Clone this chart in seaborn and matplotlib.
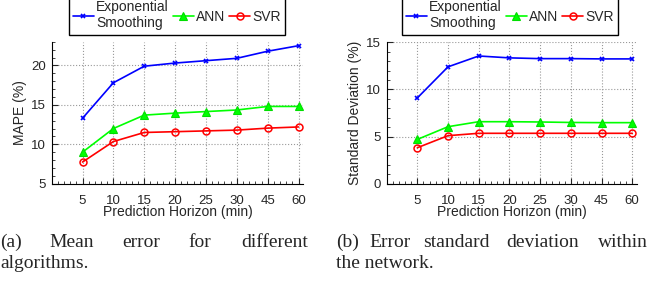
import numpy as np
import pandas as pd
import matplotlib
matplotlib.use('Agg')
import matplotlib.pyplot as plt
from matplotlib.ticker import MultipleLocator
import seaborn as sns

# data
horizons = ['5', '10', '15', '20', '25', '30', '45', '60']
mape_es = [13.3, 17.8, 19.9, 20.3, 20.6, 20.9, 21.8, 22.5]
mape_ann = [9.0, 12.0, 13.7, 13.95, 14.15, 14.35, 14.8, 14.8]
mape_svr = [7.75, 10.35, 11.5, 11.6, 11.7, 11.8, 12.05, 12.2]
std_es = [9.1, 12.4, 13.55, 13.35, 13.27, 13.27, 13.24, 13.24]
std_ann = [4.7, 6.05, 6.58, 6.58, 6.55, 6.5, 6.48, 6.48]
std_svr = [3.82, 5.1, 5.35, 5.35, 5.35, 5.35, 5.35, 5.35]
series_names = ['Exponential\nSmoothing', 'ANN', 'SVR']

sns.set_style('ticks')
plt.rcParams['font.family'] = ['Liberation Sans', 'DejaVu Sans']

styles = {
    'Exponential\nSmoothing': dict(color='#0000ff', marker='x', markersize=3.5,
                                   markeredgecolor='#0000ff', markeredgewidth=1.2),
    'ANN': dict(color='#00ff00', marker='^', markersize=5.5, markerfacecolor='#00ff00',
                markeredgecolor='#00dd00', markeredgewidth=0.8),
    'SVR': dict(color='#ff0000', marker='o', markersize=5, markerfacecolor='none',
                markeredgecolor='#ff0000', markeredgewidth=1.1),
}


def make_df(es, ann, svr):
    rows = []
    for name, vals in zip(series_names, [es, ann, svr]):
        for i, v in enumerate(vals):
            rows.append({'pos': i, 'value': v, 'series': name})
    return pd.DataFrame(rows)


fig = plt.figure(figsize=(6.62, 2.84), dpi=100)
ax1 = fig.add_axes([0.078, 0.353, 0.38, 0.500])
ax2 = fig.add_axes([0.584, 0.353, 0.378, 0.498])


def draw(ax, df, ylim, ylabel, legend_x):
    for name in series_names:
        sub = df[df['series'] == name]
        sns.lineplot(data=sub, x='pos', y='value', ax=ax, label=name,
                     linewidth=1.2, **styles[name])
    ax.set_xlim(-1, 7.15)
    ax.set_ylim(*ylim)
    ax.set_xticks(range(len(horizons)))
    ax.set_xticklabels(horizons)
    ax.xaxis.set_minor_locator(MultipleLocator(0.2))
    ax.yaxis.set_major_locator(MultipleLocator(5))
    ax.yaxis.set_minor_locator(MultipleLocator(1))
    ax.tick_params(which='major', direction='in', length=4, width=0.8, labelsize=9.5)
    ax.tick_params(axis='x', which='major', pad=8)
    ax.tick_params(axis='y', which='major', pad=4)
    ax.tick_params(which='minor', direction='in', length=2, width=0.6)
    ax.grid(True, which='major', linestyle=':', color='#999999', linewidth=0.8)
    ax.set_xlabel('Prediction Horizon (min)', fontsize=10, labelpad=-1)
    ax.set_ylabel(ylabel, fontsize=10, labelpad=3)
    sns.despine(ax=ax)
    for s in ['left', 'bottom']:
        ax.spines[s].set_linewidth(0.8)
        ax.spines[s].set_color('black')
    ax.get_legend().remove()
    handles, labels = ax.get_legend_handles_labels()
    leg = fig.legend(handles, labels, loc='lower center', bbox_to_anchor=(legend_x, 0.878),
                     ncol=3, fontsize=10, frameon=True, fancybox=False, edgecolor='black',
                     handlelength=1.5, handletextpad=0.15, columnspacing=0.3,
                     borderpad=0.3, borderaxespad=0, framealpha=1)
    leg.get_frame().set_linewidth(1.0)


draw(ax1, make_df(mape_es, mape_ann, mape_svr), (5, 23), 'MAPE (%)', 0.267)
draw(ax2, make_df(std_es, std_ann, std_svr), (0, 15), 'Standard Deviation (%)', 0.770)

# captions (justified text emulated by word placement)
cap = dict(fontsize=14, family=['Liberation Serif', 'DejaVu Serif'], va='baseline')
line1 = 1 - 247 / 284
line2 = 1 - 268 / 284
for word, x in [('(a)', 0), ('Mean', 49), ('error', 122), ('for', 188)]:
    fig.text(x / 662, line1, word, **cap)
fig.text(308 / 662, line1, 'different', ha='right', **cap)
fig.text(0, line2, 'algorithms.', **cap)
for word, x in [('(b)', 336), ('Error', 369), ('standard', 423), ('deviation', 506)]:
    fig.text(x / 662, line1, word, **cap)
fig.text(648 / 662, line1, 'within', ha='right', **cap)
fig.text(336 / 662, line2, 'the network.', **cap)

fig.savefig('out.png', dpi=100)
